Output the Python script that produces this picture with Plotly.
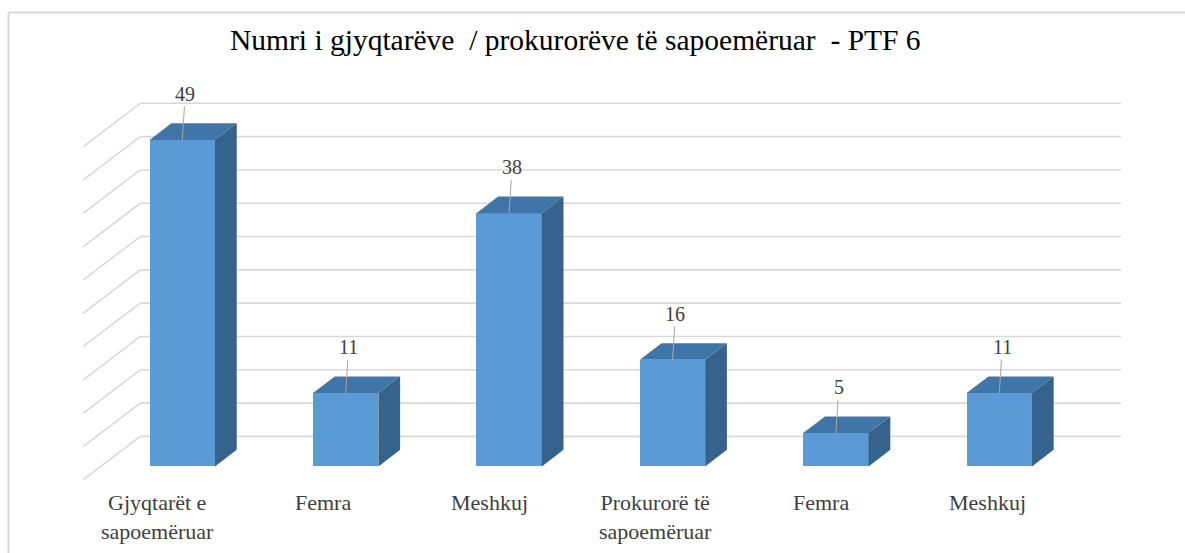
import plotly.graph_objects as go

# ---- data ----
categories = ["Gjyqtarët e<br>sapoemëruar", "Femra", "Meshkuj",
              "Prokurorë të<br>sapoemëruar", "Femra", "Meshkuj"]
values = [49, 11, 38, 16, 5, 11]
grid_values = [0, 5, 10, 15, 20, 25, 30, 35, 40, 45, 50]
title_text = "Numri i gjyqtarëve  / prokurorëve të sapoemëruar  - PTF 6"

# ---- style / geometry constants ----
W, H = 1185, 553
ML, MR, MT, MB = 81, 55, 60, 0
XR = [-0.62, 5.8]
YR = [-13, 61]
BAR_W = 0.4
DX = 0.133          # depth offset (x units)
DY = 2.5            # depth offset (y units)
WALL_DY = 4.5       # back-wall zero relative to front base
WALL_X0 = -0.257
WALL_X1 = 5.745
FRONT_X = -0.606
FRONT_DROP = 6.5

C_FRONT = "#5B9BD5"
C_TOP = "#4076A7"
C_SIDE = "#35638B"
C_GRID = "#D9D9D9"
FONT = "Liberation Serif"

xs = list(range(len(values)))
fig = go.Figure()

# front faces
fig.add_trace(go.Bar(x=xs, y=values, width=BAR_W, marker=dict(color=C_FRONT, line=dict(width=0)),
                     hoverinfo="skip", showlegend=False))

# top and side faces
for x, v in zip(xs, values):
    x0, x1 = x - BAR_W / 2, x + BAR_W / 2
    fig.add_trace(go.Scatter(
        x=[x0, x1, x1 + DX, x0 + DX, x0], y=[v, v, v + DY, v + DY, v],
        fill="toself", fillcolor=C_TOP, mode="lines", line=dict(width=0, color=C_TOP),
        hoverinfo="skip", showlegend=False))
    fig.add_trace(go.Scatter(
        x=[x1, x1 + DX, x1 + DX, x1, x1], y=[0, DY, v + DY, v, 0],
        fill="toself", fillcolor=C_SIDE, mode="lines", line=dict(width=0, color=C_SIDE),
        hoverinfo="skip", showlegend=False))

shapes = []
# back wall gridlines + side wall diagonals
for g in grid_values:
    yw = g + WALL_DY
    shapes.append(dict(type="line", xref="x", yref="y", x0=WALL_X0, x1=WALL_X1, y0=yw, y1=yw,
                       line=dict(color=C_GRID, width=1.6), layer="below"))
    shapes.append(dict(type="line", xref="x", yref="y", x0=WALL_X0, x1=FRONT_X, y0=yw, y1=yw - FRONT_DROP,
                       line=dict(color=C_GRID, width=1.6), layer="below"))

# chart border (top and left)
pw = W - ML - MR
ph = H - MT - MB
def xp(px):
    return (px - ML) / pw
def yp(py):
    return (H - MB - py) / ph
shapes.append(dict(type="line", xref="paper", yref="paper", x0=xp(8.5), x1=xp(W), y0=yp(12.5), y1=yp(12.5),
                   line=dict(color="#D9D9D9", width=2)))
shapes.append(dict(type="line", xref="paper", yref="paper", x0=xp(8.5), x1=xp(8.5), y0=yp(12.5), y1=yp(H),
                   line=dict(color="#D9D9D9", width=2)))

annotations = []
# data labels with leader lines
for x, v in zip(xs, values):
    annotations.append(dict(x=x, y=v, xref="x", yref="y", text=str(v), showarrow=True,
                            arrowhead=0, arrowwidth=1, arrowcolor="#A6A6A6", ax=3, ay=-46,
                            standoff=0, font=dict(family=FONT, size=20, color="#404040")))
# category labels
for x, c in zip(xs, categories):
    annotations.append(dict(x=x, y=-3.3, xref="x", yref="y", text=c, showarrow=False,
                            xanchor="center", yanchor="top", xshift=-25 + 2.6 * x, align="center",
                            font=dict(family=FONT, size=22, color="#404040")))
# title
annotations.append(dict(x=xp(575), y=yp(40), xref="paper", yref="paper", text=title_text,
                        showarrow=False, xanchor="center", yanchor="middle",
                        font=dict(family=FONT, size=29.5, color="#000000")))

fig.update_layout(
    width=W, height=H, margin=dict(l=ML, r=MR, t=MT, b=MB),
    paper_bgcolor="white", plot_bgcolor="white",
    font=dict(family=FONT),
    xaxis=dict(range=XR, visible=False, fixedrange=True),
    yaxis=dict(range=YR, visible=False, fixedrange=True),
    shapes=shapes, annotations=annotations, showlegend=False, bargap=0,
)

fig.write_html("out.html", config={"displayModeBar": False},
               post_script="document.body.style.margin='0';document.body.style.overflow='hidden';")
